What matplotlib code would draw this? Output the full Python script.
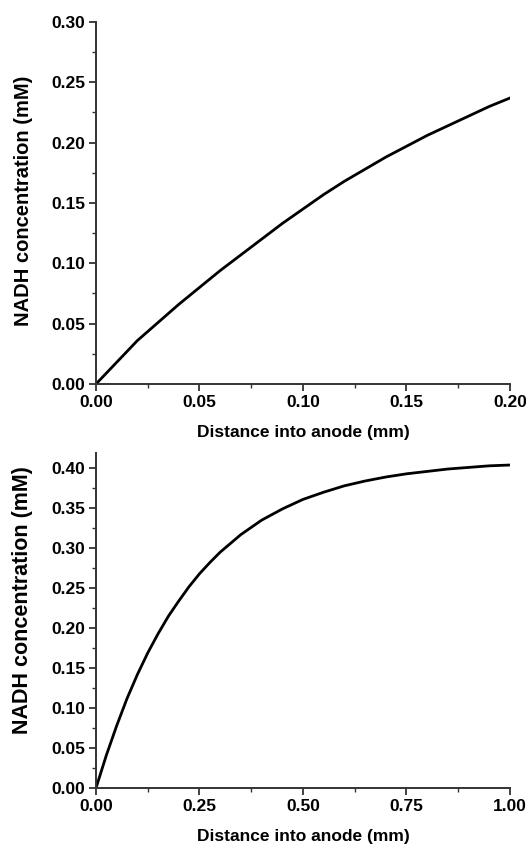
import matplotlib
matplotlib.use('Agg')
import matplotlib.pyplot as plt
from matplotlib.ticker import MultipleLocator, FormatStrFormatter

# top panel: short distance
x_top = [0.0, 0.01, 0.02, 0.03, 0.04, 0.05, 0.06, 0.07, 0.08, 0.09, 0.10, 0.11, 0.12,
         0.13, 0.14, 0.15, 0.16, 0.17, 0.18, 0.19, 0.20]
y_top = [0.0, 0.018, 0.036, 0.051, 0.066, 0.080, 0.094, 0.107, 0.120, 0.133, 0.145,
         0.157, 0.168, 0.178, 0.188, 0.197, 0.206, 0.214, 0.222, 0.230, 0.237]

# bottom panel: full anode depth
x_bot = [0.0, 0.025, 0.05, 0.075, 0.1, 0.125, 0.15, 0.175, 0.2, 0.225, 0.25, 0.275, 0.3,
         0.35, 0.4, 0.45, 0.5, 0.55, 0.6, 0.65, 0.7, 0.75, 0.8, 0.85, 0.9, 0.95, 1.0]
y_bot = [0.0, 0.041, 0.078, 0.112, 0.142, 0.169, 0.193, 0.215, 0.234, 0.252, 0.268,
         0.282, 0.295, 0.317, 0.335, 0.349, 0.361, 0.370, 0.378, 0.384, 0.389, 0.393,
         0.396, 0.399, 0.401, 0.403, 0.404]

plt.rcParams['font.family'] = ['Liberation Sans', 'DejaVu Sans']
plt.rcParams['font.weight'] = 'bold'

fig = plt.figure(figsize=(5.26, 8.49), dpi=100)
ax1 = fig.add_axes([0.1825, 0.5477, 0.787, 0.4264])
ax2 = fig.add_axes([0.1825, 0.0718, 0.787, 0.3946])

def style(ax, xmaj, ymaj, xlim, ylim, ylab_size, ylab_y):
    ax.set_xlim(*xlim)
    ax.set_ylim(*ylim)
    for s in ['top', 'right']:
        ax.spines[s].set_visible(False)
    for s in ['left', 'bottom']:
        ax.spines[s].set_linewidth(1.4)
        ax.spines[s].set_color('#333333')
    ax.xaxis.set_major_locator(MultipleLocator(xmaj))
    ax.xaxis.set_minor_locator(MultipleLocator(xmaj / 2))
    ax.yaxis.set_major_locator(MultipleLocator(ymaj))
    ax.yaxis.set_minor_locator(MultipleLocator(ymaj / 2))
    ax.xaxis.set_major_formatter(FormatStrFormatter('%.2f'))
    ax.yaxis.set_major_formatter(FormatStrFormatter('%.2f'))
    ax.tick_params(which='major', direction='out', length=5, width=1.3, labelsize=12.5,
                   color='#333333', pad=3)
    ax.tick_params(which='minor', direction='out', length=3, width=1.0, color='#333333')
    ax.set_xlabel('Distance into anode (mm)', fontsize=12.5, fontweight='bold', labelpad=11)
    ax.set_ylabel('NADH concentration (mM)', fontsize=ylab_size, fontweight='bold')
    ax.yaxis.set_label_coords(-0.152, ylab_y)

ax1.plot(x_top, y_top, color='black', lw=2)
style(ax1, 0.05, 0.05, (0, 0.2), (0, 0.30), 14.5, 0.505)

ax2.plot(x_bot, y_bot, color='black', lw=2)
style(ax2, 0.25, 0.05, (0, 1.0), (0, 0.419), 15.5, 0.56)

fig.savefig('out.png', dpi=100)
